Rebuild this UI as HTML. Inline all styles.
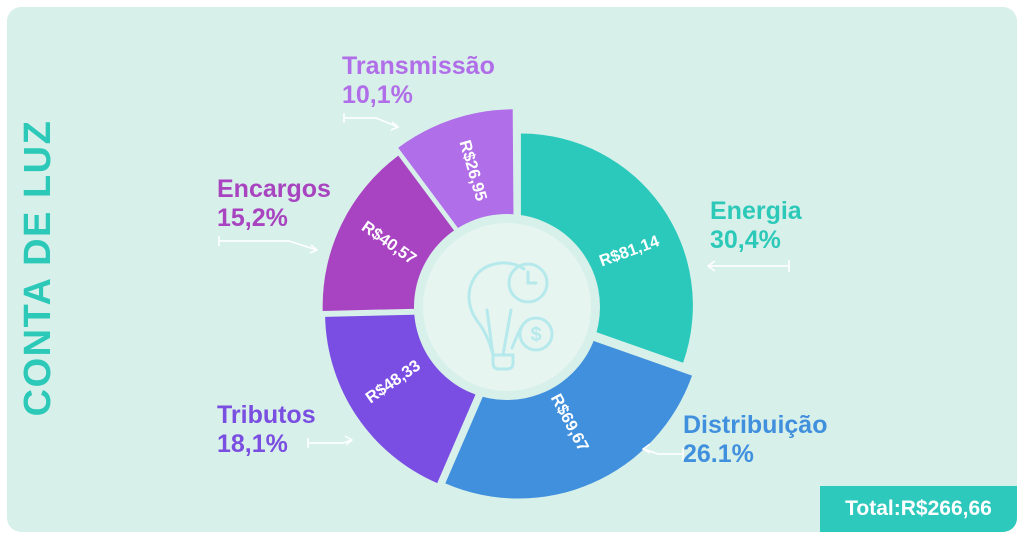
<!DOCTYPE html>
<html><head><meta charset="utf-8"><style>
html,body{margin:0;padding:0;background:#fff;}
body{width:1024px;height:544px;position:relative;overflow:hidden;font-family:"Liberation Sans",sans-serif;}
.card{position:absolute;left:7px;top:7px;width:1010px;height:525px;background:#d8f0ea;border-radius:14px;}
.lbl{position:absolute;font-weight:bold;font-size:25px;line-height:29px;}
</style></head><body>
<div class="card"></div>
<svg width="1024" height="544" style="position:absolute;left:0;top:0">
<g id="pie"></g>
<circle cx="507" cy="307" r="84" fill="#e7f5f1"/>
<g fill="none" stroke="#b6e9ec" stroke-width="3" stroke-linecap="round">
<path d="M493 355 q-5-20 -15-33 q-12-16 -8-34 q6-22 30-25 q14-1 24 6"/>
<path d="M493 355 h20 v8 q0 6 -6 6 h-8 q-6 0 -6 -6z"/>
<path d="M493 355 l-6 -45 M503 355 l8 -45 M512 348 q6-15 10-22"/>
<circle cx="528" cy="283" r="19"/>
<path d="M528 272 v11 h8"/>
<circle cx="536" cy="334" r="16"/>
</g>
<text x="536" y="341" text-anchor="middle" font-size="20" font-weight="bold" fill="#b6e9ec" font-family="Liberation Sans">$</text>
<g fill="none" stroke="#fff" stroke-width="1.5">
<path d="M344 113 v10 M344 118 h32 l22 9 M392 122 l6 5 l-7 3"/>
<path d="M219 236 v10 M219 241 h70 l28 9 M311 245 l6 5 l-7 3"/>
<path d="M308 438 v10 M308 443 h35 l9 -3 M345 436 l7 4 l-6 5"/>
<path d="M789 260 v12 M789 266 h-80 M715 261 l-7 5 l7 5"/>
<path d="M683 448 v12 M683 454 h-25 l-14 -5 M650 444 l-7 5 l7 4"/>
</g>
<g fill="#fff" font-weight="bold" font-size="16.5" font-family="Liberation Sans" text-anchor="middle">
<text transform="translate(631,256) rotate(-20)">R$81,14</text>
<text transform="translate(565,425) rotate(62)">R$69,67</text>
<text transform="translate(396,386) rotate(-35)">R$48,33</text>
<text transform="translate(386,247) rotate(35)">R$40,57</text>
<text transform="translate(468,172) rotate(74)">R$26,95</text>
</g>
<text transform="translate(50,268) rotate(-90)" text-anchor="middle" font-size="38" font-weight="bold" fill="#2cc9b9" font-family="Liberation Sans" letter-spacing="1.5">CONTA DE LUZ</text>
</svg>
<div class="lbl" style="left:342px;top:52px;color:#b06ee8">Transmissão<br>10,1%</div>
<div class="lbl" style="left:217px;top:175px;color:#a844c0">Encargos<br>15,2%</div>
<div class="lbl" style="left:217px;top:401px;color:#7a4ee0">Tributos<br>18,1%</div>
<div class="lbl" style="left:710px;top:197px;color:#2cc9b9">Energia<br>30,4%</div>
<div class="lbl" style="left:683px;top:411px;color:#4090dd">Distribuição<br>26.1%</div>
<div style="position:absolute;left:820px;top:486px;width:197px;height:46px;background:#2cc9bc;color:#fff;font-weight:bold;font-size:21px;line-height:46px;text-align:center;border-bottom-right-radius:14px">Total:R$266,66</div>
<script>
var s=[[0,109.4,172,'#2ac9bc'],[109.4,203.4,184,'#4090dd'],[203.4,268.6,186,'#7a4ee3'],[268.6,323.3,188,'#a844c2'],[323.3,359.6,194,'#b06ee8']];
var g=document.getElementById('pie'),h='';
s.forEach(function(a){var m=(a[0]+a[1])/2*Math.PI/180,d=6,cx=516+d*Math.sin(m),cy=309-d*Math.cos(m),R=a[2];
function p(t,r){t=t*Math.PI/180;return (cx+r*Math.sin(t)).toFixed(1)+' '+(cy-r*Math.cos(t)).toFixed(1);}
h+='<path d="M'+p(a[0],0)+' L'+p(a[0],R)+' A'+R+' '+R+' 0 '+(a[1]-a[0]>180?1:0)+' 1 '+p(a[1],R)+' Z" fill="'+a[3]+'"/>';});
h+='<circle cx="507" cy="307" r="93" fill="#d8f0ea"/>';
g.innerHTML=h;
</script>
</body></html>
